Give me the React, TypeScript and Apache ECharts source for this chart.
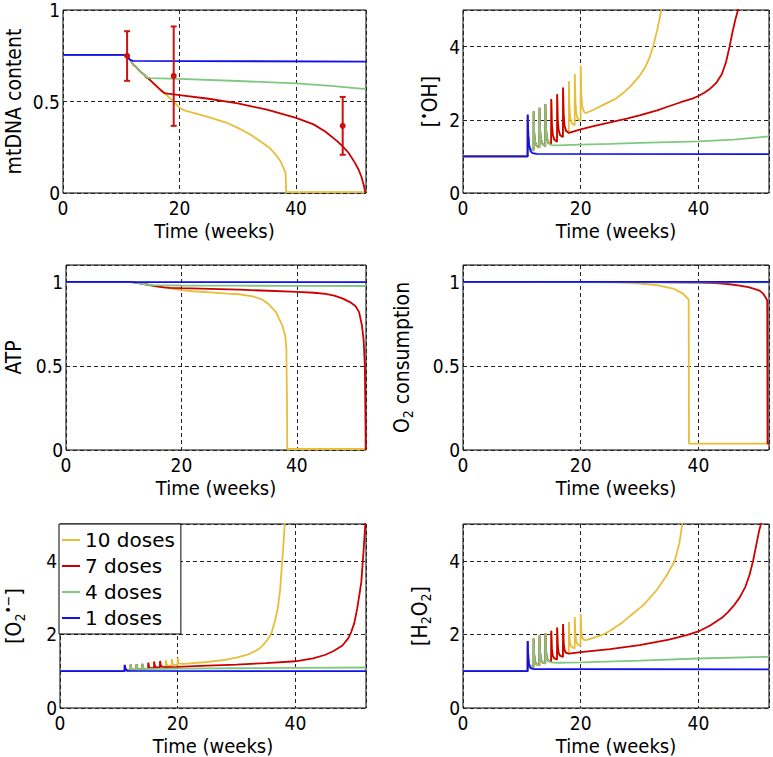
import React, { useEffect, useRef } from "react";
import * as echarts from "echarts";

// ---- series names / colours ----
const seriesNames = ["10 doses", "7 doses", "4 doses", "1 doses"];
const seriesColors = ["#E6BE3A", "#CC0000", "#80C880", "#1010EE"];
const xTicks = [0, 20, 40];

// ---- Panel 1: mtDNA content ----
const mtYellow = [[0,0.755],[11,0.755],[11.3,0.735],[11.8,0.715],[12.1,0.7],[12.5,0.69],[12.9,0.675],[13.2,0.665],[13.6,0.655],[14,0.645],[14.3,0.632],[14.6,0.627],[15,0.615],[15.5,0.6],[16,0.585],[16.5,0.57],[17,0.556],[17.4,0.546],[17.8,0.535],[18.3,0.52],[18.8,0.505],[19.3,0.49],[19.8,0.472],[20.4,0.458],[21,0.45],[23,0.432],[25,0.415],[28,0.385],[30,0.356],[32,0.322],[34,0.28],[35.5,0.245],[36.5,0.21],[37.3,0.175],[37.8,0.14],[38.2,0.11],[38.3,0.005],[52,0.005]];
const mtRed = [[0,0.755],[11,0.755],[11.3,0.735],[11.8,0.715],[12.1,0.7],[12.5,0.69],[12.9,0.675],[13.2,0.665],[13.6,0.655],[14,0.645],[14.3,0.632],[14.6,0.627],[15,0.615],[15.5,0.6],[16,0.585],[16.5,0.57],[17,0.556],[17.4,0.546],[18,0.543],[20,0.535],[25,0.515],[30,0.49],[35,0.455],[40,0.41],[43,0.375],[45,0.336],[47,0.285],[48,0.255],[49,0.22],[50,0.17],[50.7,0.13],[51.2,0.09],[51.6,0.045],[51.9,0],[52,0]];
const mtGreen = [[0,0.755],[11,0.755],[11.3,0.735],[11.8,0.715],[12.1,0.7],[12.5,0.69],[12.9,0.675],[13.2,0.665],[13.6,0.655],[14,0.645],[14.4,0.632],[15,0.628],[20,0.624],[30,0.612],[40,0.599],[46,0.585],[52,0.568]];
const mtBlue = [[0,0.755],[10.95,0.755],[11.2,0.74],[11.5,0.728],[12,0.722],[52,0.718]];
// measured data (mean ± error)
const errWeeks = [11, 19, 48];
const errMean = [0.75, 0.64, 0.367];
const errLow = [0.613, 0.367, 0.209];
const errHigh = [0.884, 0.91, 0.525];

// ---- Panel 2: [•OH] ----
const ohYellow = [[0,1],[10.98,1],[11,2.14],[11.1,1.55],[11.25,1.3],[11.5,1.2],[11.98,1.16],[12,2.23],[12.1,1.65],[12.25,1.4],[12.5,1.29],[12.98,1.24],[13,2.33],[13.1,1.72],[13.25,1.46],[13.5,1.34],[13.98,1.28],[14,2.43],[14.1,1.78],[14.25,1.5],[14.5,1.37],[14.98,1.33],[15,2.57],[15.1,1.9],[15.25,1.6],[15.5,1.46],[15.98,1.4],[16,2.7],[16.1,2.0],[16.25,1.72],[16.5,1.58],[16.98,1.53],[17,2.88],[17.1,2.15],[17.25,1.84],[17.5,1.7],[17.98,1.65],[18,3.05],[18.1,2.35],[18.25,2.05],[18.5,1.9],[18.98,1.85],[19,3.25],[19.1,2.5],[19.25,2.18],[19.5,2.02],[19.98,1.97],[20,3.48],[20.1,2.7],[20.25,2.38],[20.5,2.24],[20.8,2.18],[22,2.26],[24,2.42],[26,2.58],[27.2,2.73],[28.5,2.92],[30,3.2],[31,3.45],[31.7,3.7],[32.3,4.0],[33,4.45],[33.7,5.0],[34,5.2]];
const ohRed = [[0,1],[10.98,1],[11,2.14],[11.1,1.55],[11.25,1.3],[11.5,1.2],[11.98,1.16],[12,2.23],[12.1,1.65],[12.25,1.4],[12.5,1.29],[12.98,1.24],[13,2.33],[13.1,1.72],[13.25,1.46],[13.5,1.34],[13.98,1.28],[14,2.43],[14.1,1.78],[14.25,1.5],[14.5,1.37],[14.98,1.33],[15,2.57],[15.1,1.9],[15.25,1.6],[15.5,1.46],[15.98,1.4],[16,2.7],[16.1,2.0],[16.25,1.72],[16.5,1.58],[16.98,1.53],[17,2.88],[17.1,2.15],[17.25,1.84],[17.5,1.7],[18,1.64],[19,1.69],[20,1.74],[22,1.82],[25,1.93],[28,2.04],[30,2.12],[33,2.26],[35,2.37],[37,2.48],[39,2.58],[40,2.65],[41,2.74],[42,2.85],[43,3.0],[44,3.25],[44.7,3.58],[45.3,4.0],[45.8,4.4],[46.3,4.75],[46.9,5.1]];
const ohGreen = [[0,1],[10.98,1],[11,2.14],[11.1,1.55],[11.25,1.3],[11.5,1.2],[11.98,1.16],[12,2.23],[12.1,1.65],[12.25,1.4],[12.5,1.29],[12.98,1.24],[13,2.33],[13.1,1.72],[13.25,1.46],[13.5,1.34],[13.98,1.28],[14,2.43],[14.1,1.78],[14.25,1.5],[14.5,1.37],[15,1.31],[16,1.3],[20,1.32],[25,1.34],[30,1.37],[35,1.39],[40,1.41],[46,1.46],[52,1.545]];
const ohBlue = [[0,1],[10.98,1],[11,2.14],[11.1,1.55],[11.25,1.28],[11.5,1.14],[11.8,1.09],[12.5,1.07],[52,1.06]];

// ---- Panel 3: ATP ----
const atpYellow = [[0,1],[11,1],[12,0.995],[13,0.99],[14,0.984],[15,0.978],[16,0.972],[17,0.967],[18,0.962],[19,0.956],[20,0.95],[22,0.944],[25,0.937],[28,0.93],[30,0.926],[32.4,0.914],[34,0.895],[35.2,0.865],[36.4,0.82],[37.5,0.74],[38,0.68],[38.2,0.6],[38.3,0.3],[38.35,0.006],[52,0.006]];
const atpRed = [[0,1],[11,1],[12,0.995],[13,0.99],[14,0.984],[15,0.978],[16,0.972],[17,0.967],[18,0.964],[20,0.962],[25,0.958],[30,0.953],[35,0.947],[40,0.94],[43,0.935],[45,0.928],[46.5,0.918],[48,0.9],[49.3,0.878],[50.2,0.855],[50.8,0.82],[51.3,0.74],[51.6,0.65],[51.8,0.5],[51.9,0.2],[51.95,0],[52,0]];
const atpGreen = [[0,1],[11,1],[12,0.995],[13,0.99],[14,0.984],[15,0.98],[20,0.978],[30,0.977],[40,0.976],[52,0.975]];
const atpBlue = [[0,1],[11,1],[12,0.998],[52,0.998]];

// ---- Panel 4: O2 consumption ----
const o2cYellow = [[0,1],[11,1],[20,0.999],[25,0.997],[28,0.994],[30,0.99],[32.9,0.98],[35.7,0.96],[37.4,0.93],[38.2,0.9],[38.35,0.895],[38.4,0.038],[52,0.038]];
const o2cRed = [[0,1],[11,1],[20,0.999],[30,0.998],[40,0.995],[43,0.992],[45,0.987],[47,0.978],[48.5,0.968],[49.5,0.958],[50.4,0.948],[51,0.93],[51.4,0.908],[51.7,0.89],[51.75,0.038],[52,0.038]];
const o2cGreen = [[0,1],[11,1],[15,0.999],[52,0.997]];
const o2cBlue = [[0,1],[52,1]];

// ---- Panel 5: [O2•−] ----
const soYellow = [[0,1],[10.98,1],[11,1.17],[11.1,1.08],[11.25,1.03],[11.5,1.02],[11.98,1.02],[12,1.18],[12.1,1.09],[12.25,1.05],[12.5,1.04],[12.98,1.04],[13,1.19],[13.1,1.1],[13.25,1.06],[13.5,1.05],[13.98,1.05],[14,1.2],[14.1,1.11],[14.25,1.07],[14.5,1.06],[14.98,1.06],[15,1.23],[15.1,1.13],[15.25,1.09],[15.5,1.08],[15.98,1.08],[16,1.26],[16.1,1.15],[16.25,1.11],[16.5,1.1],[16.98,1.1],[17,1.28],[17.1,1.17],[17.25,1.13],[17.5,1.12],[17.98,1.11],[18,1.3],[18.1,1.2],[18.25,1.16],[18.5,1.15],[18.98,1.15],[19,1.33],[19.1,1.22],[19.25,1.18],[19.5,1.17],[19.98,1.17],[20,1.36],[20.1,1.25],[20.25,1.21],[20.5,1.2],[21,1.2],[25,1.25],[28,1.31],[30,1.37],[32,1.46],[33,1.53],[34,1.63],[35,1.8],[35.6,1.93],[36,2.07],[36.5,2.35],[37,2.7],[37.4,3.2],[37.7,3.87],[38,4.5],[38.2,5.05]];
const soRed = [[0,1],[10.98,1],[11,1.17],[11.1,1.08],[11.25,1.03],[11.5,1.02],[11.98,1.02],[12,1.18],[12.1,1.09],[12.25,1.05],[12.5,1.04],[12.98,1.04],[13,1.19],[13.1,1.1],[13.25,1.06],[13.5,1.05],[13.98,1.05],[14,1.2],[14.1,1.11],[14.25,1.07],[14.5,1.06],[14.98,1.06],[15,1.23],[15.1,1.13],[15.25,1.09],[15.5,1.08],[15.98,1.08],[16,1.26],[16.1,1.15],[16.25,1.11],[16.5,1.1],[16.98,1.1],[17,1.28],[17.1,1.17],[17.25,1.13],[17.5,1.12],[18,1.11],[20,1.12],[25,1.15],[30,1.18],[35,1.22],[40,1.27],[43,1.35],[45,1.44],[46.5,1.55],[48,1.7],[49,1.9],[49.5,2.07],[50,2.3],[50.5,2.7],[50.9,3.1],[51.2,3.42],[51.6,4.3],[51.9,5.05]];
const soGreen = [[0,1],[10.98,1],[11,1.17],[11.1,1.08],[11.25,1.03],[11.5,1.02],[11.98,1.02],[12,1.18],[12.1,1.09],[12.25,1.05],[12.5,1.04],[12.98,1.04],[13,1.19],[13.1,1.1],[13.25,1.06],[13.5,1.05],[13.98,1.05],[14,1.2],[14.1,1.11],[14.25,1.07],[14.5,1.06],[15,1.06],[20,1.07],[30,1.08],[40,1.09],[52,1.1]];
const soBlue = [[0,1],[10.98,1],[11,1.17],[11.1,1.08],[11.25,1.03],[11.5,1.01],[52,1.0]];

// ---- Panel 6: [H2O2] ----
const hpYellow = [[0,1],[10.98,1],[11,1.82],[11.1,1.35],[11.25,1.18],[11.5,1.13],[11.98,1.11],[12,1.89],[12.1,1.45],[12.25,1.26],[12.5,1.19],[12.98,1.16],[13,1.97],[13.1,1.52],[13.25,1.32],[13.5,1.24],[13.98,1.21],[14,2.03],[14.1,1.57],[14.25,1.36],[14.5,1.28],[14.98,1.26],[15,2.1],[15.1,1.62],[15.25,1.42],[15.5,1.35],[15.98,1.32],[16,2.19],[16.1,1.7],[16.25,1.5],[16.5,1.42],[16.98,1.39],[17,2.28],[17.1,1.78],[17.25,1.57],[17.5,1.5],[17.98,1.49],[18,2.34],[18.1,1.9],[18.25,1.72],[18.5,1.65],[18.98,1.62],[19,2.47],[19.1,2.0],[19.25,1.8],[19.5,1.72],[19.98,1.69],[20,2.56],[20.1,2.1],[20.25,1.92],[20.5,1.86],[20.8,1.84],[22,1.9],[23.9,2.0],[25,2.1],[27.2,2.34],[29,2.58],[30.6,2.79],[32.9,3.2],[34.6,3.6],[36,4.0],[36.8,4.5],[37.3,5.05]];
const hpRed = [[0,1],[10.98,1],[11,1.82],[11.1,1.35],[11.25,1.18],[11.5,1.13],[11.98,1.11],[12,1.89],[12.1,1.45],[12.25,1.26],[12.5,1.19],[12.98,1.16],[13,1.97],[13.1,1.52],[13.25,1.32],[13.5,1.24],[13.98,1.21],[14,2.03],[14.1,1.57],[14.25,1.36],[14.5,1.28],[14.98,1.26],[15,2.1],[15.1,1.62],[15.25,1.42],[15.5,1.35],[15.98,1.32],[16,2.19],[16.1,1.7],[16.25,1.5],[16.5,1.42],[16.98,1.39],[17,2.28],[17.1,1.78],[17.25,1.57],[17.5,1.5],[18,1.48],[20,1.52],[25,1.6],[30,1.71],[35,1.86],[38,1.98],[40,2.08],[42,2.24],[44,2.45],[45,2.6],[46,2.78],[47,3.0],[48,3.3],[48.7,3.62],[49.3,4.0],[49.8,4.4],[50.3,4.8],[50.7,5.05]];
const hpGreen = [[0,1],[10.98,1],[11,1.82],[11.1,1.35],[11.25,1.18],[11.5,1.13],[11.98,1.11],[12,1.89],[12.1,1.45],[12.25,1.26],[12.5,1.19],[12.98,1.16],[13,1.97],[13.1,1.52],[13.25,1.32],[13.5,1.24],[13.98,1.21],[14,2.03],[14.1,1.57],[14.25,1.36],[14.5,1.28],[15,1.24],[16,1.23],[20,1.24],[30,1.29],[40,1.345],[52,1.39]];
const hpBlue = [[0,1],[10.98,1],[11,1.82],[11.1,1.35],[11.25,1.15],[11.5,1.08],[12,1.06],[52,1.05]];

const FONT = '"DejaVu Sans Condensed", "DejaVu Sans", sans-serif';

const richStyles = {
  sub: { fontSize: 14, lineHeight: 14, padding: [12, 0, 0, 0], fontFamily: FONT, color: "#000" },
  sup: { fontSize: 14, lineHeight: 14, padding: [0, 0, 12, 0], fontFamily: FONT, color: "#000" },
};

const panels = [
  { grid: { left: 59, top: 10, width: 307, height: 183 }, yMax: 1, yInt: 0.5, showMax: true, yPad: 4, name: "mtDNA content", yGap: 36, data: [mtYellow, mtRed, mtGreen, mtBlue] },
  { grid: { left: 463, top: 10, width: 306, height: 183 }, yMax: 5, yInt: 2, showMax: false, yPad: 0, name: "[{sup|•}OH]", yGap: 20, data: [ohYellow, ohRed, ohGreen, ohBlue] },
  { grid: { left: 59, top: 265, width: 307, height: 185 }, yMax: 1.1, yInt: 0.5, showMax: false, yPad: 0, name: "ATP", yGap: 39, data: [atpYellow, atpRed, atpGreen, atpBlue] },
  { grid: { left: 463, top: 265, width: 306, height: 185 }, yMax: 1.1, yInt: 0.5, showMax: false, yPad: 0, name: "O{sub|2} consumption", yGap: 48, data: [o2cYellow, o2cRed, o2cGreen, o2cBlue] },
  { grid: { left: 59, top: 524, width: 307, height: 186 }, yMax: 5, yInt: 2, showMax: false, yPad: 0, name: "[O{sub|2}{sup|•−}]", yGap: 33, data: [soYellow, soRed, soGreen, soBlue] },
  { grid: { left: 463, top: 524, width: 306, height: 186 }, yMax: 5, yInt: 2, showMax: false, yPad: 0, name: "[H{sub|2}O{sub|2}]", yGap: 30, data: [hpYellow, hpRed, hpGreen, hpBlue] },
];

export default function App() {
  const ref = useRef<HTMLDivElement>(null);
  useEffect(() => {
    if (!ref.current) return;
    const chart = echarts.init(ref.current, undefined, { renderer: "svg" });
    const grids = panels.map((p) => ({
      ...p.grid,
      show: true,
      borderColor: "#000",
      borderWidth: 1,
      backgroundColor: "transparent",
      containLabel: false,
    }));
    const splitLine = { show: true, lineStyle: { color: "#222", width: 1, type: [4, 3] } };
    const xAxes = panels.map((p, i) => ({
      type: "value",
      gridIndex: i,
      min: xTicks[0],
      max: 52,
      interval: xTicks[1] - xTicks[0],
      axisLine: { show: false },
      axisTick: { show: false },
      splitLine,
      axisLabel: { fontSize: 19, lineHeight: 14, fontFamily: FONT, color: "#000", margin: 8, showMaxLabel: false },
      name: "Time (weeks)",
      nameLocation: "middle",
      nameGap: 30,
      nameTextStyle: { fontSize: 20, lineHeight: 16, fontFamily: FONT, color: "#000" },
    }));
    const yAxes = panels.map((p, i) => ({
      type: "value",
      gridIndex: i,
      min: 0,
      max: p.yMax,
      interval: p.yInt,
      axisLine: { show: false },
      axisTick: { show: false },
      splitLine,
      axisLabel: { fontSize: 19, lineHeight: 14, padding: [p.yPad, 0, 0, 0], fontFamily: FONT, color: "#000", margin: 3, showMaxLabel: p.showMax },
      name: p.name,
      nameLocation: "middle",
      nameGap: p.yGap,
      nameTextStyle: { fontSize: 21, fontFamily: FONT, color: "#000", lineHeight: 26, rich: richStyles },
    }));
    const series: any[] = [];
    panels.forEach((p, i) => {
      p.data.forEach((d, k) => {
        series.push({
          type: "line",
          name: seriesNames[k],
          xAxisIndex: i,
          yAxisIndex: i,
          data: d,
          color: seriesColors[k],
          showSymbol: false,
          symbol: "none",
          lineStyle: { width: 1.8, color: seriesColors[k] },
          clip: true,
          silent: true,
          z: 2 + k,
        });
      });
    });
    series.push({
      type: "custom",
      name: "measured",
      xAxisIndex: 0,
      yAxisIndex: 0,
      z: 10,
      data: errWeeks.map((w, i) => [w, errMean[i], errLow[i], errHigh[i]]),
      encode: { x: 0, y: 1 },
      renderItem: (params: any, api: any) => {
        const x = api.value(0);
        const pm = api.coord([x, api.value(1)]);
        const pl = api.coord([x, api.value(2)]);
        const ph = api.coord([x, api.value(3)]);
        const st = { stroke: "#D01010", lineWidth: 2 };
        return {
          type: "group",
          children: [
            { type: "line", shape: { x1: pl[0], y1: pl[1], x2: ph[0], y2: ph[1] }, style: st },
            { type: "line", shape: { x1: ph[0] - 3, y1: ph[1], x2: ph[0] + 3, y2: ph[1] }, style: st },
            { type: "line", shape: { x1: pl[0] - 3, y1: pl[1], x2: pl[0] + 3, y2: pl[1] }, style: st },
            { type: "circle", shape: { cx: pm[0], cy: pm[1], r: 3 }, style: { fill: "#D01010" } },
          ],
        };
      },
    });
    chart.setOption({
      animation: false,
      grid: grids,
      xAxis: xAxes,
      yAxis: yAxes,
      legend: {
        data: seriesNames.map((n) => ({ name: n, icon: "rect" })),
        orient: "vertical",
        left: 59,
        top: 524,
        itemWidth: 18,
        itemHeight: 2,
        itemGap: 6,
        padding: [6, 6, 6, 3],
        borderColor: "#000",
        borderWidth: 1,
        borderRadius: 0,
        backgroundColor: "#fff",
        selectedMode: false,
        textStyle: { fontSize: 20, fontFamily: '"DejaVu Sans", sans-serif', color: "#000" },
        z: 20,
      },
      series,
    });
    return () => chart.dispose();
  }, []);
  return (
    <div
      ref={ref}
      style={{ position: "fixed", left: 0, top: 0, width: 773, height: 757, background: "#fff" }}
    />
  );
}
